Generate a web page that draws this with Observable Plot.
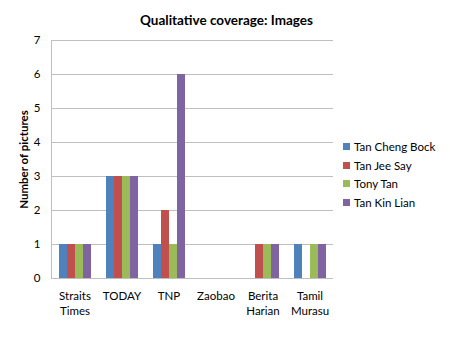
<!DOCTYPE html>
<html>
<head>
<meta charset="utf-8">
<script src="https://cdn.jsdelivr.net/npm/d3@7"></script>
<script src="https://cdn.jsdelivr.net/npm/@observablehq/plot@0.6"></script>
<style>
  body { margin: 0; background: #fff; }
  #wrap { position: relative; width: 450px; height: 337px; font-family: Lato, "Open Sans", sans-serif; color: #000; }
  #title { height: 30px; line-height: 20px; padding-top: 10px; box-sizing: border-box; text-align: center; font-weight: bold; font-size: 13.5px; padding-left: 3px; }
  #legend { position: absolute; left: 343px; top: 137px; font-size: 11.5px; }
  .li { display: flex; align-items: center; height: 18.7px; }
  .sw { width: 7px; height: 7px; margin-right: 4px; }
  svg [aria-label="y-axis label"] text { font-weight: bold; }
</style>
</head>
<body>
<div id="wrap">
  <div id="title">Qualitative coverage: Images</div>
  <div id="chart"></div>
  <div id="legend"></div>
</div>
<script>
const categories = ["Straits Times", "TODAY", "TNP", "Zaobao", "Berita Harian", "Tamil Murasu"];
const seriesNames = ["Tan Cheng Bock", "Tan Jee Say", "Tony Tan", "Tan Kin Lian"];
const tanChengBock = [1, 3, 1, 0, 0, 1];
const tanJeeSay    = [1, 3, 2, 0, 1, 0];
const tonyTan      = [1, 3, 1, 0, 1, 1];
const tanKinLian   = [1, 3, 6, 0, 1, 1];
const seriesColors = ["#4F81BD", "#C0504D", "#9BBB59", "#8064A2"];
const yTicks = [0, 1, 2, 3, 4, 5, 6, 7];

const seriesValues = [tanChengBock, tanJeeSay, tonyTan, tanKinLian];
const data = [];
categories.forEach((c, i) => {
  seriesNames.forEach((s, j) => {
    data.push({category: c, series: s, value: seriesValues[j][i]});
  });
});

const chart = Plot.plot({
  width: 450,
  height: 307,
  marginTop: 10,
  marginBottom: 59,
  marginLeft: 50,
  marginRight: 117,
  style: {fontFamily: "Lato, 'Open Sans', sans-serif", fontSize: "11.5px", color: "#000", background: "#fff"},
  fx: {domain: categories, padding: 0, label: null},
  x: {domain: seriesNames, paddingInner: 0, paddingOuter: 0.78, axis: null},
  y: {domain: [0, 7], label: null},
  color: {domain: seriesNames, range: seriesColors},
  marks: [
    Plot.gridY(yTicks, {stroke: "#bfbfbf", strokeOpacity: 1}),
    Plot.frame({anchor: "left", facet: "super", stroke: "#bfbfbf", strokeOpacity: 1}),
    Plot.barY(data, {fx: "category", x: "series", y: "value", fill: "series"}),
    Plot.axisY(yTicks, {tickSize: 0, tickPadding: 11, label: "Number of pictures", labelAnchor: "center", labelArrow: "none", labelOffset: 32, fontSize: 11.5}),
    Plot.axisFx({anchor: "bottom", tickSize: 0, tickPadding: 10, tickFormat: d => d.replace(" ", "\n"), lineHeight: 1.35, label: null, fontSize: 11.5})
  ]
});
document.getElementById("chart").appendChild(chart);

const legend = document.getElementById("legend");
seriesNames.forEach((s, j) => {
  const row = document.createElement("div");
  row.className = "li";
  const sw = document.createElement("span");
  sw.className = "sw";
  sw.style.background = seriesColors[j];
  const t = document.createElement("span");
  t.textContent = s;
  row.appendChild(sw);
  row.appendChild(t);
  legend.appendChild(row);
});
</script>
</body>
</html>
